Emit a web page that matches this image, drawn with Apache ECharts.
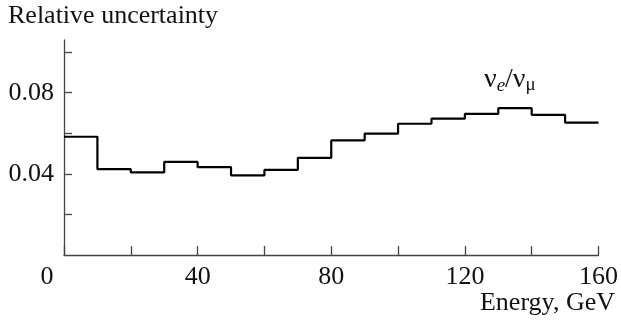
<!DOCTYPE html>
<html>
<head>
<meta charset="utf-8">
<script src="https://cdn.jsdelivr.net/npm/echarts@6/dist/echarts.min.js"></script>
<style>
  html, body { margin: 0; padding: 0; background: #fff; }
  #chart { width: 621px; height: 320px; }
</style>
</head>
<body>
<div id="chart"></div>
<script>
// Bin edges (GeV) and relative uncertainty of the nu_e / nu_mu ratio per bin
const binEdges = [0, 10, 20, 30, 40, 50, 60, 70, 80, 90, 100, 110, 120, 130, 140, 150, 160];
const ratioUncertainty = [0.0583, 0.0423, 0.0407, 0.0459, 0.0433, 0.0393, 0.0420, 0.0479,
                          0.0565, 0.0598, 0.0647, 0.0672, 0.0696, 0.0724, 0.0691, 0.0653];
const yTickValues = [0.02, 0.04, 0.06, 0.08, 0.10];
const yLabelValues = [0.04, 0.08];
const xLabelValues = [0, 40, 80, 120, 160];

// Step outline: each bin starts at its left edge; the last value is held to the right edge
const stepData = ratioUncertainty.map((v, i) => [binEdges[i], v]);
stepData.push([binEdges[binEdges.length - 1], ratioUncertainty[ratioUncertainty.length - 1]]);

const FONT = '"Liberation Serif", "DejaVu Serif", serif';
const FS = 26;
const axisColor = '#444';

const chart = echarts.init(document.getElementById('chart'), null, { renderer: 'canvas' });
chart.setOption({
  backgroundColor: '#fff',
  animation: false,
  grid: { left: 64, right: 22, top: 40, bottom: 65, containLabel: false },
  xAxis: {
    type: 'value',
    min: 0, max: 160, interval: 20,
    axisLine: { show: true, lineStyle: { color: axisColor, width: 1.3 } },
    axisTick: { show: true, inside: true, length: 9, lineStyle: { color: axisColor, width: 1.3 } },
    splitLine: { show: false },
    axisLabel: {
      customValues: xLabelValues,
      margin: 9,
      color: '#111',
      fontFamily: FONT,
      fontSize: FS,
      formatter: v => (v === 0 ? '{z|0}' : String(v)),
      rich: { z: { fontFamily: FONT, fontSize: FS, color: '#111', padding: [0, 34, 0, 0] } }
    }
  },
  yAxis: {
    type: 'value',
    min: 0, max: 0.106,
    axisLine: { show: true, lineStyle: { color: axisColor, width: 1.3 } },
    axisTick: { show: true, inside: true, length: 8, customValues: yTickValues,
                lineStyle: { color: axisColor, width: 1.3 } },
    splitLine: { show: false },
    axisLabel: {
      customValues: yLabelValues,
      margin: 10,
      color: '#111',
      fontFamily: FONT,
      fontSize: FS,
      formatter: v => v.toFixed(2)
    }
  },
  series: [{
    type: 'line',
    step: 'end',
    data: stepData,
    symbol: 'none',
    lineStyle: { color: '#000', width: 2.2 },
    silent: true
  }],
  graphic: [
    {
      type: 'text', left: 8, top: 3,
      style: { text: 'Relative uncertainty', font: FS + 'px ' + FONT, fill: '#111' }
    },
    {
      type: 'text', right: 6, top: 290,
      style: { text: 'Energy, GeV', font: FS + 'px ' + FONT, fill: '#111' }
    },
    {
      type: 'text', left: 484, top: 66,
      style: {
        text: '{n|ν}{s|e}{n|/ν}{m|μ}',
        rich: {
          n: { fontFamily: FONT, fontSize: 28, fill: '#111' },
          s: { fontFamily: FONT, fontStyle: 'italic', fontSize: 19, fill: '#111', padding: [11, 0, 0, 0] },
          m: { fontFamily: FONT, fontSize: 19, fill: '#111', padding: [11, 0, 0, 0] }
        }
      }
    }
  ]
});
</script>
</body>
</html>
